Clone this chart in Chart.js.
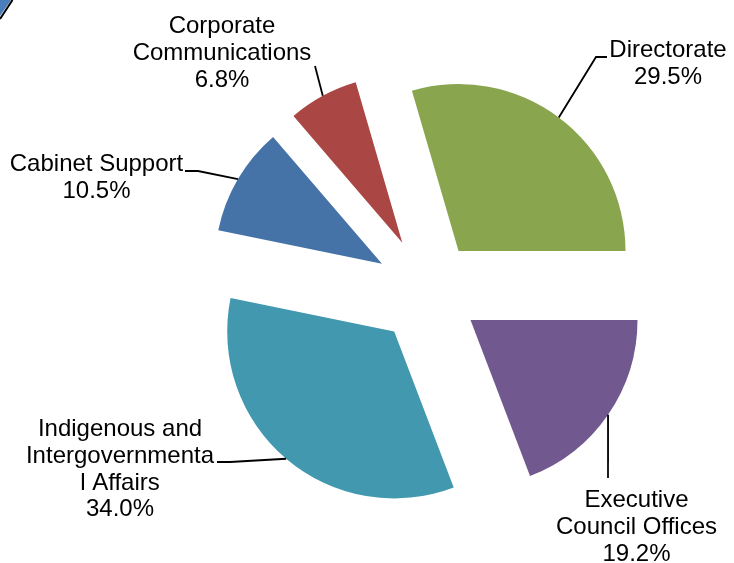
<!DOCTYPE html>
<html>
<head>
<meta charset="utf-8">
<script src="https://cdn.jsdelivr.net/npm/chart.js@4"></script>
<style>
  html, body { margin: 0; padding: 0; background: #fff; }
  #wrap { position: relative; width: 734px; height: 563px; }
  #corner { position: absolute; left: 0; top: 0; z-index: 2; }
</style>
</head>
<body>
<div id="wrap">
  <svg id="corner" width="20" height="22">
    <polygon points="0,0 11,0 0,16" fill="#4a7ebb"/>
    <line x1="12.5" y1="0" x2="0" y2="19" stroke="#000" stroke-width="2"/>
  </svg>
  <canvas id="pie"></canvas>
</div>
<script>
// ── Data ─────────────────────────────────────────────────────────────────────
// order runs clockwise from 3 o'clock
const categories = [
  'Executive Council Offices',
  'Indigenous and Intergovernmental Affairs',
  'Cabinet Support',
  'Corporate Communications',
  'Directorate',
]
const shares = [19.2, 34.0, 10.5, 6.8, 29.5]
// label text as wrapped in the original (percent line added below)
const labelLines = [
  ['Executive', 'Council Offices'],
  ['Indigenous and', 'Intergovernmenta', 'l Affairs'],
  ['Cabinet Support'],
  ['Corporate', 'Communications'],
  ['Directorate'],
]
const colors = ['#71588f', '#4198af', '#4572a7', '#aa4643', '#89a54e']

// ── Layout ───────────────────────────────────────────────────────────────────
const RADIUS  = 167
const EXPLODE = [51, 53, 54, 55, 50]
const FONT    = '24px "Liberation Sans", Arial, sans-serif'
const LINE_H  = 26.8
// [center x, first baseline y] of each label block
const labelPos = [[636.5, 507], [120, 436], [96.5, 171], [222, 33], [668, 57]]
// leader line points on the text side, ending at the slice edge
const leaderFrom = [
  [[608, 478]],
  [[217, 462], [230, 462]],
  [[185, 171], [198, 171]],
  [[315, 66]],
  [[607, 57], [596, 57]],
]

// ── Plugins ──────────────────────────────────────────────────────────────────
const explodePlugin = {
  id: 'explode',
  beforeDatasetDraw(chart, args) {
    const ctx = chart.ctx
    args.meta.data.forEach((arc, i) => {
      const mid = (arc.startAngle + arc.endAngle) / 2
      ctx.save()
      ctx.translate(Math.cos(mid) * EXPLODE[i], Math.sin(mid) * EXPLODE[i])
      arc.draw(ctx, chart.chartArea)
      ctx.restore()
    })
    return false
  },
}

const labelPlugin = {
  id: 'sliceLabels',
  afterDraw(chart) {
    const ctx = chart.ctx
    const arcs = chart.getDatasetMeta(0).data
    ctx.save()
    ctx.strokeStyle = '#000'
    ctx.lineWidth = 1.8
    arcs.forEach((arc, i) => {
      const mid = (arc.startAngle + arc.endAngle) / 2
      const r = arc.outerRadius + EXPLODE[i]
      const pts = leaderFrom[i]
      ctx.beginPath()
      ctx.moveTo(pts[0][0], pts[0][1])
      pts.slice(1).forEach(p => ctx.lineTo(p[0], p[1]))
      ctx.lineTo(arc.x + Math.cos(mid) * r, arc.y + Math.sin(mid) * r)
      ctx.stroke()
    })
    ctx.fillStyle = '#000'
    ctx.font = FONT
    ctx.textAlign = 'center'
    ctx.textBaseline = 'alphabetic'
    labelLines.forEach((lines, i) => {
      const all = [...lines, shares[i].toFixed(1) + '%']
      const [x, y] = labelPos[i]
      all.forEach((t, k) => ctx.fillText(t, x, y + k * LINE_H))
    })
    ctx.restore()
  },
}

// ── Chart ────────────────────────────────────────────────────────────────────
new Chart(document.getElementById('pie'), {
  type: 'pie',
  data: {
    labels: categories,
    datasets: [{
      data: shares,
      backgroundColor: colors,
      borderWidth: 0,
    }],
  },
  options: {
    responsive: true,
    maintainAspectRatio: false,
    animation: false,
    events: [],
    rotation: 90,
    radius: RADIUS,
    layout: { padding: { left: 123, top: 19, right: 0, bottom: 0 } },
    plugins: {
      legend: { display: false },
      tooltip: { enabled: false },
    },
  },
  plugins: [explodePlugin, labelPlugin],
})
</script>
</body>
</html>
